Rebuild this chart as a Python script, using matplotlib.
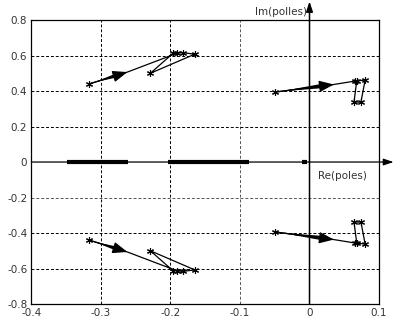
import numpy as np
import matplotlib.pyplot as plt
from matplotlib.patches import FancyArrowPatch

# pole trajectories (upper half plane, lower half is the conjugate)
# index 1 is where the direction arrow sits, no marker there
left_re = [-0.317, -0.262, -0.190, -0.182, -0.165, -0.229, -0.196]
left_im = [0.440, 0.507, 0.614, 0.616, 0.608, 0.500, 0.614]
right_re = [-0.050, 0.035, 0.065, 0.080, 0.074, 0.064, 0.068]
right_im = [0.394, 0.437, 0.456, 0.462, 0.338, 0.338, 0.458]

# real poles sweeping along the real axis
real_segs = [(-0.349, -0.261), (-0.203, -0.087), (-0.011, -0.004)]

xticks = [-0.4, -0.3, -0.2, -0.1, 0, 0.1]
yticks = [-0.8, -0.6, -0.4, -0.2, 0, 0.2, 0.4, 0.6, 0.8]

plt.rcParams['font.family'] = 'DejaVu Sans'
fig = plt.figure(figsize=(3.97, 3.29), dpi=100)
ax = fig.add_axes([0.0793, 0.076, 0.8754, 0.863])
ax.set_xlim(-0.4, 0.1)
ax.set_ylim(-0.8, 0.8)
ax.set_xticks(xticks)
ax.set_yticks(yticks)
ax.set_xticklabels(['-0.4', '-0.3', '-0.2', '-0.1', '0', '0.1'])
ax.set_yticklabels(['-0.8', '-0.6', '-0.4', '-0.2', '0', '0.2', '0.4', '0.6', '0.8'])
ax.tick_params(length=0, labelsize=7.5, colors='#333333', pad=3)
for s in ax.spines.values():
    s.set_linewidth(0.9)

for x in xticks[1:4]:
    ax.axvline(x, color='k' if x != -0.1 else '#555555', ls=(0, (3, 2)), lw=0.7)
for y in yticks[1:-1]:
    if y != 0:
        ax.axhline(y, color='k' if y != -0.2 else '#555555', ls=(0, (3, 2)), lw=0.7)

# coordinate axes with arrows
ax.annotate('', xy=(0.121, 0), xytext=(-0.4, 0), annotation_clip=False,
            arrowprops=dict(arrowstyle='-|>,head_length=0.6,head_width=0.2',
                            color='k', lw=0.9, shrinkA=0, shrinkB=0))
ax.annotate('', xy=(0, 0.905), xytext=(0, -0.8), annotation_clip=False,
            arrowprops=dict(arrowstyle='-|>,head_length=0.6,head_width=0.2',
                            color='k', lw=1.1, shrinkA=0, shrinkB=0))
ax.text(-0.004, 0.845, 'Im(polles)', ha='right', va='center', fontsize=7.5, color='#333333')
ax.text(0.048, -0.08, 'Re(poles)', ha='center', va='center', fontsize=7.5, color='#333333')

star = (6, 2, 0)

def draw_path(re, im):
    ax.plot(re, im, color='k', lw=0.9)
    ax.plot([re[0]] + re[2:], [im[0]] + im[2:], ls='none', color='k',
            marker=star, ms=5, mew=0.8)
    # tapered shaft and head on the first leg
    p0 = (re[0], im[0])
    p1 = (re[1], im[1])
    ax.add_patch(FancyArrowPatch(p1, p0, arrowstyle='wedge,tail_width=3.5,shrink_factor=0.5',
                                 mutation_scale=1, color='k', lw=0, shrinkA=5, shrinkB=4))
    ax.annotate('', xy=p1, xytext=p0,
                arrowprops=dict(arrowstyle='-|>,head_length=0.9,head_width=0.35',
                                color='k', lw=0.9, shrinkA=0, shrinkB=0))

for re, im in [(left_re, left_im), (right_re, right_im)]:
    draw_path(re, im)
    draw_path(re, [-v for v in im])

for a, b in real_segs:
    ax.plot([a, b], [0, 0], color='k', lw=3, solid_capstyle='butt')

fig.savefig('out.png', dpi=100)
